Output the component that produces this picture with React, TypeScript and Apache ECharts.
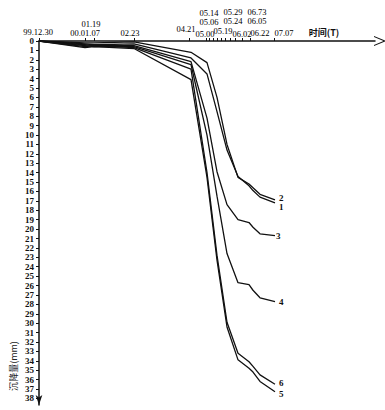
import React, { useEffect, useRef } from "react";
import * as echarts from "echarts";

// x positions are axis units (hand-drawn, non-linear time axis)
const tickDates = ["99.12.30", "00.01.07", "01.19", "02.23", "04.21", "05.00", "05.06", "05.14", "05.19", "05.24", "05.29", "06.02", "06.05", "06.73", "06.22", "07.07"];
const tickPos = [0, 46, 55, 95, 150, 167, 170, 174, 178, 182, 186, 191, 196, 203, 211, 235];
// label offsets (styling only): [dx, dy] from the tick point
const tickLabelOffset = [[-1, -9], [0, -8], [-3, -17], [-4, -8], [-3, -12], [-1, -7], [0, -19], [-4, -28], [6, -10], [12, -20], [8, -29], [12, -7], [22, -20], [15, -29], [10, -8], [10, -8]];

const measPos = [0, 46, 55, 95, 152, 168, 178, 188, 199, 210, 214, 221, 236];
const curve1 = [0, 0.3, 0.4, 0.3, 1.8, 3.5, 7.5, 11.6, 14.4, 15.4, 15.9, 16.6, 17.2];
const curve2 = [0, 0.2, 0.2, 0.1, 1.2, 2.3, 6.0, 11.0, 14.5, 15.2, 15.6, 16.3, 16.9];
const curve3 = [0, 0.4, 0.5, 0.5, 2.2, 8.2, 13.9, 17.4, 19.0, 19.3, 19.8, 20.5, 20.7];
const curve4 = [0, 0.5, 0.6, 0.6, 2.5, 10.0, 16.5, 22.6, 25.7, 25.9, 26.5, 27.3, 27.7];
const curve5 = [0, 0.7, 0.6, 0.8, 4.1, 14.5, 23.3, 30.4, 33.9, 34.8, 35.2, 36.2, 37.3];
const curve6 = [0, 0.6, 0.5, 0.7, 3.0, 14.0, 22.8, 29.9, 33.2, 34.1, 34.6, 35.5, 36.5];
const curveNames = ["1", "2", "3", "4", "5", "6"];
const curves = [curve1, curve2, curve3, curve4, curve5, curve6];
const endLabelOffset = [[0, 4], [0, -2], [-3, 0], [0, 0], [0, 2], [0, -1]];

const yTicks = Array.from({ length: 39 }, (_, i) => i);

const SERIF = "'Liberation Serif', 'DejaVu Serif', serif";
const CJK = "'Noto Sans CJK SC', sans-serif";

export default function App() {
  const ref = useRef<HTMLDivElement>(null);
  useEffect(() => {
    document.body.style.margin = "0";
    const chart = echarts.init(ref.current!, null, { renderer: "svg" });
    const lineSeries = curves.map((c, k) => ({
      type: "line",
      name: curveNames[k],
      data: c.map((v, i) => [measPos[i], v]),
      symbol: "none",
      lineStyle: { color: "#111", width: 1.3 },
      silent: true,
      z: 3,
      endLabel: {
        show: true,
        formatter: curveNames[k],
        distance: 4,
        offset: endLabelOffset[k],
        fontFamily: SERIF,
        fontWeight: "bold",
        fontSize: 9,
        color: "#111",
      },
    }));
    chart.setOption({
      animation: false,
      backgroundColor: "#fff",
      grid: { left: 39, right: 10, top: 41, bottom: 5, containLabel: false },
      xAxis: {
        type: "value",
        position: "top",
        min: 0,
        max: 336,
        splitLine: { show: false },
        axisLine: {
          show: true,
          onZero: false,
          lineStyle: { color: "#111", width: 1.5 },
          symbol: ["none", "path://M5,0L10,12L9,12L5,2.5L1,12L0,12Z"],
          symbolSize: [11, 12],
          symbolOffset: [0, 5],
        },
        axisTick: { show: true, customValues: tickPos, length: 3, inside: false, lineStyle: { color: "#111", width: 1 } },
        axisLabel: { show: false },
      },
      yAxis: {
        type: "value",
        inverse: true,
        min: 0,
        max: 38.7,
        splitLine: { show: false },
        axisLine: {
          show: true,
          onZero: false,
          lineStyle: { color: "#111", width: 1.5 },
          symbol: ["arrow", "none"],
          symbolSize: [5, 10],
        },
        axisTick: { show: true, customValues: yTicks, length: 3, lineStyle: { color: "#111", width: 1 } },
        axisLabel: {
          customValues: yTicks,
          margin: 5,
          fontFamily: SERIF,
          fontWeight: "bold",
          fontSize: 9,
          color: "#111",
        },
      },
      graphic: [
        {
          type: "text",
          x: 324,
          y: 32,
          style: { text: "时间(T)", font: `bold 9px ${CJK}`, fill: "#111", align: "center", verticalAlign: "middle" },
        },
        {
          type: "text",
          x: 13,
          y: 366,
          rotation: Math.PI / 2,
          style: { text: "沉降量(mm)", font: `9px ${CJK}`, fill: "#222", align: "center", verticalAlign: "middle" },
        },
      ],
      series: [
        ...lineSeries,
        {
          type: "scatter",
          symbolSize: 0,
          silent: true,
          itemStyle: { color: "#ffffff" },
          data: tickDates.map((d, i) => ({
            name: d,
            value: [tickPos[i], 0],
            label: { offset: tickLabelOffset[i] },
          })),
          label: {
            show: true,
            position: "inside",
            formatter: (p: any) => p.name,
            fontFamily: SERIF,
            fontSize: 8.5,
            color: "#000000",
            opacity: 1,
            textBorderWidth: 0,
            textBorderColor: "transparent",
          },
          z: 5,
        },
      ],
    });
    return () => chart.dispose();
  }, []);
  return <div ref={ref} style={{ width: 385, height: 410 }} />;
}
